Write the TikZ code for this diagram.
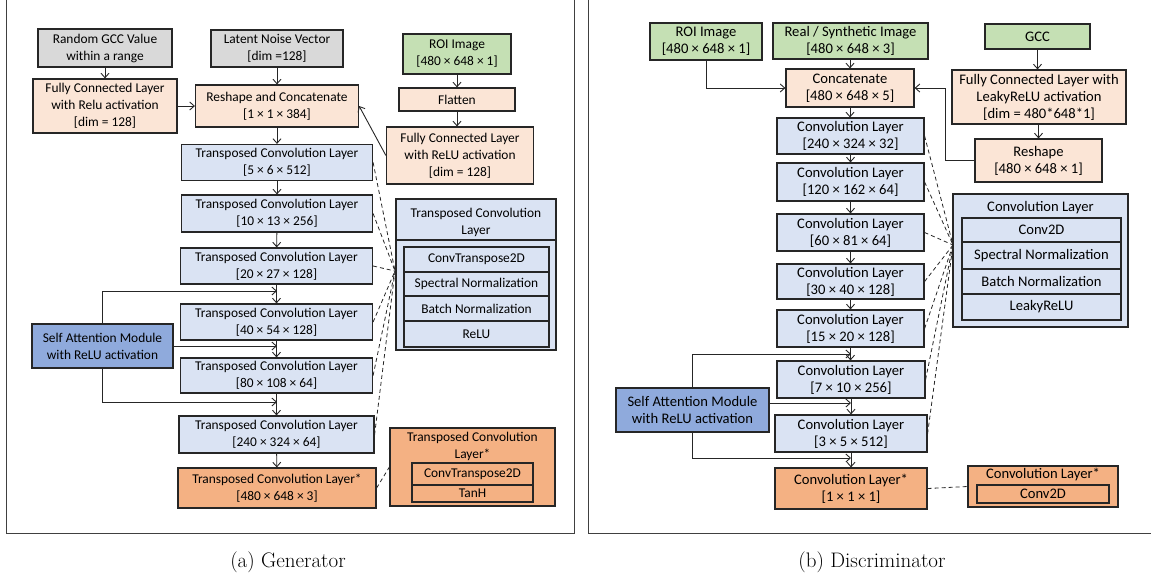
\documentclass[tikz,border=0pt]{standalone}
\usepackage{fontspec}
\newfontfamily\cf{Carlito}
\usetikzlibrary{arrows.meta}
\definecolor{cgray}{HTML}{D9D9D9}
\definecolor{cgreen}{HTML}{C5E0B4}
\definecolor{cpeach}{HTML}{FBE5D6}
\definecolor{cblue}{HTML}{DAE3F3}
\definecolor{csa}{HTML}{8FAADC}
\definecolor{corange}{HTML}{F4B183}
\definecolor{cline}{HTML}{262626}
\tikzset{
  blk/.style={draw=cline, line width=1.2pt, align=center, inner sep=0pt, font=\cf\fontsize{13.4}{17}\selectfont},
  blkR/.style={blk, font=\cf\fontsize{14.6}{17}\selectfont},
  txt/.style={align=center, inner sep=0pt, font=\cf\fontsize{13.4}{17}\selectfont},
  txtR/.style={txt, font=\cf\fontsize{14.6}{17}\selectfont},
  arr/.style={-{Straight Barb[length=4.5pt,width=8pt]}, line width=0.9pt, draw=cline},
  dsh/.style={dash pattern=on 4pt off 3pt, line width=0.8pt, draw=cline},
  frm/.style={draw=black!75, line width=1pt},
  captxt/.style={font=\fontsize{21}{25}\selectfont}
}
\begin{document}
\begin{tikzpicture}[x=1pt,y=-1pt]
\useasboundingbox (0,0) rectangle (1151,579);
% panel frames
\draw[frm] (6,-5) rectangle (574,533);
\draw[frm] (588,-5) rectangle (1165,533);
% ================= Generator =================
\node[blk, fill=cgray, minimum width=134, minimum height=38] (gccA) at (105,48) {Random GCC Value\\within a range};
\node[blk, fill=cgray, minimum width=132, minimum height=37] (latent) at (277,48.5) {Latent Noise Vector\\{}[dim =128]};
\node[blk, fill=cgreen, minimum width=108, minimum height=40] (roiA) at (457,54) {ROI Image\\{}[480 × 648 × 1]};
\node[blk, fill=cpeach, minimum width=144, minimum height=54] (fcA) at (105,106) {Fully Connected Layer\\with Relu activation\\{}[dim = 128]};
\node[blk, fill=cpeach, minimum width=163, minimum height=42] (reshape) at (277,106) {Reshape and Concatenate\\{}[1 × 1 × 384]};
\node[blk, fill=cpeach, minimum width=116, minimum height=23] (flatten) at (457,99.5) {Flatten};
\node[blk, fill=cpeach, minimum width=147, minimum height=57] (fcB) at (460,155.5) {Fully Connected Layer\\with ReLU activation\\{}[dim = 128]};
\node[blk, fill=cblue, minimum width=191, minimum height=36] (tc1) at (277,162.5) {Transposed Convolution Layer\\{}[5 × 6 × 512]};
\node[blk, fill=cblue, minimum width=191, minimum height=37] (tc2) at (277,213.5) {Transposed Convolution Layer\\{}[10 × 13 × 256]};
\node[blk, fill=cblue, minimum width=192, minimum height=36] (tc3) at (276.5,266) {Transposed Convolution Layer\\{}[20 × 27 × 128]};
\node[blk, fill=cblue, minimum width=192, minimum height=36] (tc4) at (276.5,322) {Transposed Convolution Layer\\{}[40 × 54 × 128]};
\node[blk, fill=cblue, minimum width=192, minimum height=35] (tc5) at (276.5,375.5) {Transposed Convolution Layer\\{}[80 × 108 × 64]};
\node[blk, fill=cblue, minimum width=195, minimum height=37] (tc6) at (276.5,434.5) {Transposed Convolution Layer\\{}[240 × 324 × 64]};
\node[blk, fill=corange, minimum width=198, minimum height=40] (tc7) at (277,488) {Transposed Convolution Layer*\\{}[480 × 648 × 3]};
\node[blk, fill=csa, minimum width=141, minimum height=44] (saA) at (102.5,346) {Self Attention Module\\with ReLU activation};
% detail box (transposed conv)
\node[blk, fill=cblue, minimum width=160, minimum height=151] (detA) at (476,274.5) {};
\node[txt] (detAt) at (476,222.5) {Transposed Convolution\\Layer};
\draw[line width=1.2pt, draw=cline] (detA.west |- 0,240) -- (detA.east |- 0,240);
\node[blk, fill=cblue, minimum width=145, minimum height=25] (ra1) at (476.5,259.5) {ConvTranspose2D};
\node[blk, fill=cblue, minimum width=145, minimum height=24] (ra2) at (476.5,284) {Spectral Normalization};
\node[blk, fill=cblue, minimum width=145, minimum height=25] (ra3) at (476.5,308.5) {Batch Normalization};
\node[blk, fill=cblue, minimum width=145, minimum height=26] (ra4) at (476.5,334) {ReLU};
% orange detail
\node[blk, fill=corange, minimum width=165, minimum height=78] (detOA) at (472.5,467) {};
\node[txt] (detOAt) at (472.5,446.5) {Transposed Convolution\\Layer*};
\node[blk, fill=corange, minimum width=121, minimum height=22] (oa1) at (472.5,474) {ConvTranspose2D};
\node[blk, fill=corange, minimum width=121, minimum height=17] (oa2) at (472.5,493.5) {TanH};
% arrows
\draw[arr] (gccA) -- (fcA);
\draw[arr] (latent) -- (reshape);
\draw[arr] (roiA) -- (flatten);
\draw[arr] (flatten) -- (flatten |- fcB.north);
\draw[arr] (fcA) -- (reshape);
\draw[arr] (fcB.west) -- (reshape.east);
\draw[arr] (reshape) -- (tc1);
\draw[arr] (tc1) -- (tc2);
\draw[arr] (tc2) -- (tc3);
\draw[arr] (tc3) -- (tc4);
\draw[arr] (tc4) -- (tc5);
\draw[arr] (tc5) -- (tc6);
\draw[arr] (tc6) -- (tc7);
\coordinate (ja1) at (277,291);
\coordinate (ja2) at (277,346);
\coordinate (ja3) at (277,402);
\draw[arr] (saA.north) |- (ja1);
\draw[arr] (saA.east) -- (ja2);
\draw[arr] (saA.south) |- (ja3);
\coordinate (fa) at (395,271);
\foreach \n in {tc1,tc2,tc3,tc4,tc5,tc6} \draw[dsh] (\n.east) -- (fa);
\draw[dsh] (tc7.east) -- (detOA.west);
% ================= Discriminator =================
\node[blkR, fill=cgreen, minimum width=112, minimum height=37] (roiB) at (706,41.5) {ROI Image\\{}[480 × 648 × 1]};
\node[blkR, fill=cgreen, minimum width=155, minimum height=36] (real) at (850.5,41) {Real / Synthetic Image\\{}[480 × 648 × 3]};
\node[blkR, fill=cgreen, minimum width=105, minimum height=25] (gccB) at (1037.5,36.5) {GCC};
\node[blkR, fill=cpeach, minimum width=128, minimum height=38] (concat) at (850,88) {Concatenate\\{}[480 × 648 × 5]};
\node[blkR, fill=cpeach, minimum width=174, minimum height=54] (fcC) at (1039,97) {Fully Connected Layer with\\LeakyReLU activation\\{}[dim = 480*648*1]};
\node[blkR, fill=cpeach, minimum width=127, minimum height=43] (reshB) at (1038.5,160.5) {Reshape\\{}[480 × 648 × 1]};
\node[blkR, fill=cblue, minimum width=147, minimum height=36] (cv1) at (850.5,136) {Convolution Layer\\{}[240 × 324 × 32]};
\node[blkR, fill=cblue, minimum width=147, minimum height=38] (cv2) at (850.5,182) {Convolution Layer\\{}[120 × 162 × 64]};
\node[blkR, fill=cblue, minimum width=147, minimum height=37] (cv3) at (850.5,232.5) {Convolution Layer\\{}[60 × 81 × 64]};
\node[blkR, fill=cblue, minimum width=147, minimum height=35] (cv4) at (850.5,281.5) {Convolution Layer\\{}[30 × 40 × 128]};
\node[blkR, fill=cblue, minimum width=147, minimum height=37] (cv5) at (850.5,328.5) {Convolution Layer\\{}[15 × 20 × 128]};
\node[blkR, fill=cblue, minimum width=148, minimum height=37] (cv6) at (851,379.5) {Convolution Layer\\{}[7 × 10 × 256]};
\node[blkR, fill=cblue, minimum width=152, minimum height=37] (cv7) at (851,433.5) {Convolution Layer\\{}[3 × 5 × 512]};
\node[blkR, fill=corange, minimum width=152, minimum height=41] (cv8) at (851,488.5) {Convolution Layer*\\{}[1 × 1 × 1]};
\node[blkR, fill=csa, minimum width=153, minimum height=44] (saB) at (692.5,410) {Self Attention Module\\with ReLU activation};
% detail box conv
\node[blkR, fill=cblue, minimum width=175, minimum height=133] (detB) at (1040.5,260.5) {};
\node[txtR] (detBt) at (1040.5,208) {Convolution Layer};
\node[blkR, fill=cblue, minimum width=159, minimum height=24] (rb1) at (1041.5,230) {Conv2D};
\node[blkR, fill=cblue, minimum width=159, minimum height=27] (rb2) at (1041.5,255.5) {Spectral Normalization};
\node[blkR, fill=cblue, minimum width=159, minimum height=25] (rb3) at (1041.5,281.5) {Batch Normalization};
\node[blkR, fill=cblue, minimum width=159, minimum height=26] (rb4) at (1041.5,307) {LeakyReLU};
% orange detail conv
\node[blkR, fill=corange, minimum width=150, minimum height=41] (detOB) at (1043,486.5) {};
\node[txtR] (detOBt) at (1043,474.5) {Convolution Layer*};
\node[blkR, fill=corange, minimum width=132, minimum height=18] (ob1) at (1043,494) {Conv2D};
% arrows
\draw[arr] (roiB.south) |- (concat.west);
\draw[arr] (real.south -| concat.north) -- (concat.north);
\draw[arr] (gccB.south) -- (gccB.south |- fcC.north);
\draw[arr] (fcC.south -| reshB.north) -- (reshB.north);
\coordinate (kb) at (945,160.5);
\draw[arr] (reshB.west) -- (kb) |- (concat.east);
\draw[arr] (concat) -- (concat |- cv1.north);
\draw[arr] (cv1) -- (cv2);
\draw[arr] (cv2) -- (cv3);
\draw[arr] (cv3) -- (cv4);
\draw[arr] (cv4) -- (cv5);
\draw[arr] (cv5) -- (cv5 |- cv6.north);
\draw[arr] (cv6) -- (cv7);
\draw[arr] (cv7) -- (cv8);
\coordinate (jb1) at (851,354);
\coordinate (jb2) at (851,403);
\coordinate (jb3) at (851,458);
\draw[arr] (saB.north) |- (jb1);
\draw[arr] (saB.east |- jb2) -- (jb2);
\draw[arr] (saB.south) |- (jb3);
\coordinate (fb) at (953,245);
\foreach \n in {cv1,cv2,cv3,cv4,cv5,cv6,cv7} \draw[dsh] (\n.east) -- (fb);
\draw[dsh] (cv8.east) -- (detOB.west);
% captions
\node[captxt] (capA) at (288,562) {(a) Generator};
\node[captxt] (capB) at (872,562) {(b) Discriminator};
\end{tikzpicture}
\end{document}
